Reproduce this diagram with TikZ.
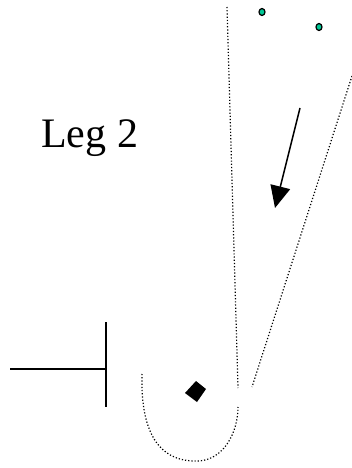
\documentclass[tikz,border=0pt]{standalone}
\usepackage{fontspec}
\setmainfont{Liberation Serif}
\usetikzlibrary{arrows.meta}
\definecolor{dotgreen}{RGB}{0,200,150}
\tikzset{
  trail/.style={line width=1.2pt, dash pattern=on 1.2pt off 2pt},
  solidline/.style={line width=1.5pt},
  dotmark/.style={fill=dotgreen, draw=black, line width=1.2pt}
}
\begin{document}
\begin{tikzpicture}[x=1pt,y=-1pt]
\useasboundingbox (0,0) rectangle (352,468);
% label
\node[anchor=base west, inner sep=0pt, font=\fontsize{42}{46}\selectfont] (leg) at (41,147) {Leg 2};
% dotted trail
\coordinate (l1) at (227,7);
\coordinate (l2) at (238,388);
\coordinate (r1) at (352,76);
\coordinate (r2) at (252,387);
\draw[trail] (l1) -- (l2);
\draw[trail] (r1) -- (r2);
\draw[trail] (142,374) .. controls (140,445) and (168,462) .. (198,461) .. controls (224,460) and (238,432) .. (238,407);
% dots
\draw[dotmark] (262,12) ellipse (3pt and 3.5pt);
\draw[dotmark] (319,27) ellipse (3pt and 3.5pt);
% arrow
\coordinate (a1) at (300,108);
\coordinate (a2) at (275,208);
\draw[solidline, -{Triangle[length=22pt,width=20pt]}] (a1) -- (a2);
% T
\coordinate (t1) at (10,369);
\coordinate (t2) at (106,369);
\coordinate (t3) at (106,322);
\coordinate (t4) at (106,407);
\draw[solidline] (t1) -- (t2);
\draw[solidline] (t3) -- (t4);
% diamond
\fill (196,381) -- (206,389) -- (197,402) -- (185,393) -- cycle;
\end{tikzpicture}
\end{document}
